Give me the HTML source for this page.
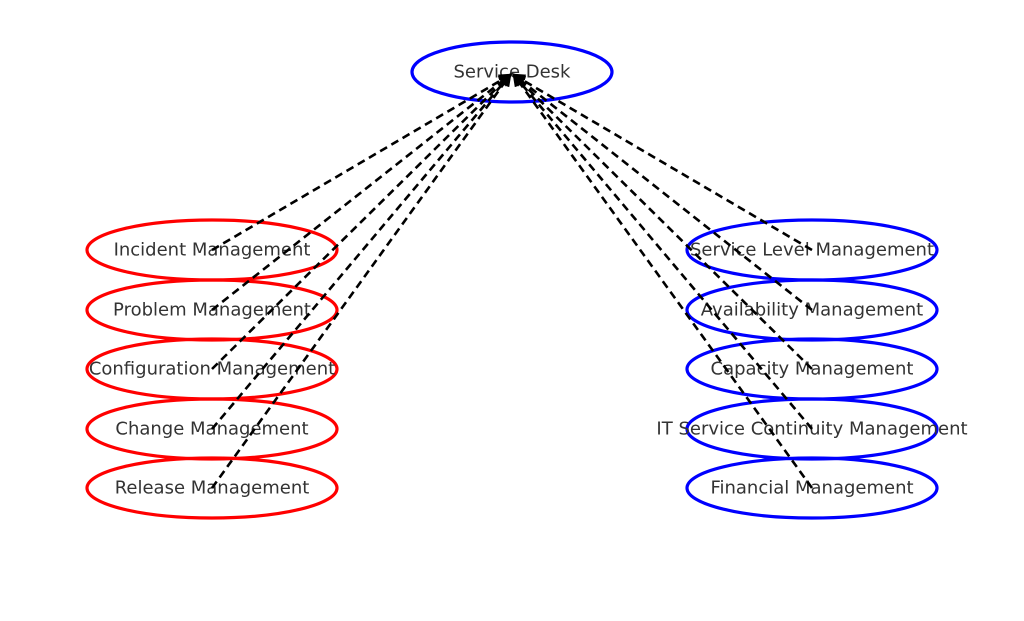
<!DOCTYPE html>
<html><head><meta charset="utf-8"><style>body{margin:0;background:#fff}svg{display:block}</style></head>
<body>
<svg width="1024" height="621" xmlns="http://www.w3.org/2000/svg" font-family="DejaVu Sans, Liberation Sans, sans-serif" font-size="18" fill="#333">
<defs><marker id="a" markerWidth="5" markerHeight="5" refX="4" refY="2.5" orient="auto" markerUnits="strokeWidth"><path d="M0,0 L5,2.5 L0,5 z" fill="#000"/></marker></defs>
<g fill="none" stroke-width="3.2">
<ellipse cx="512" cy="72" rx="100" ry="30" stroke="#00f"/>
<g stroke="#f00">
<ellipse cx="212" cy="250" rx="125" ry="30"/><ellipse cx="212" cy="310" rx="125" ry="30"/><ellipse cx="212" cy="369" rx="125" ry="30"/><ellipse cx="212" cy="429" rx="125" ry="30"/><ellipse cx="212" cy="488" rx="125" ry="30"/>
</g>
<g stroke="#00f">
<ellipse cx="812" cy="250" rx="125" ry="30"/><ellipse cx="812" cy="310" rx="125" ry="30"/><ellipse cx="812" cy="369" rx="125" ry="30"/><ellipse cx="812" cy="429" rx="125" ry="30"/><ellipse cx="812" cy="488" rx="125" ry="30"/>
</g></g>
<g text-anchor="middle" dominant-baseline="central">
<text x="512" y="72">Service Desk</text>
<text x="212" y="250">Incident Management</text><text x="212" y="310">Problem Management</text><text x="212" y="369">Configuration Management</text><text x="212" y="429">Change Management</text><text x="212" y="488">Release Management</text>
<text x="812" y="250">Service Level Management</text><text x="812" y="310">Availability Management</text><text x="812" y="369">Capacity Management</text><text x="812" y="429">IT Service Continuity Management</text><text x="812" y="488">Financial Management</text>
</g>
<g stroke="#000" stroke-width="2.6" stroke-dasharray="8,5" marker-end="url(#a)">
<line x1="212" y1="250" x2="510" y2="75"/><line x1="212" y1="310" x2="510" y2="75"/><line x1="212" y1="369" x2="510" y2="75"/><line x1="212" y1="429" x2="510" y2="75"/><line x1="212" y1="488" x2="510" y2="75"/>
<line x1="812" y1="250" x2="514" y2="75"/><line x1="812" y1="310" x2="514" y2="75"/><line x1="812" y1="369" x2="514" y2="75"/><line x1="812" y1="429" x2="514" y2="75"/><line x1="812" y1="488" x2="514" y2="75"/>
</g>
</svg>
</body></html>
